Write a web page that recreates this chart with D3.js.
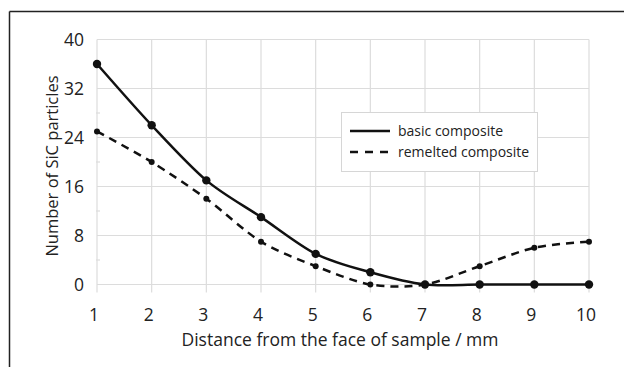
<!doctype html>
<html lang="en">
<head>
<meta charset="utf-8">
<title>SiC particles</title>
<script src="https://cdn.jsdelivr.net/npm/d3@7"></script>
<style>
  body { margin: 0; background: #fff; }
  svg text { font-family: "Open Sans", sans-serif; fill: #222; }
  .grid line { stroke: #dcdcdc; stroke-width: 1.2; }
</style>
</head>
<body>
<svg id="chart" width="624" height="367"></svg>
<script>
  // values
  var distance = [1, 2, 3, 4, 5, 6, 7, 8, 9, 10];
  var basic    = [36, 26, 17, 11, 5, 2, 0, 0, 0, 0];
  var remelted = [25, 20, 14, 7, 3, 0, 0, 3, 6, 7];
  var yTicks   = [0, 8, 16, 24, 32, 40];
  var seriesNames = ["basic composite", "remelted composite"];

  var svg = d3.select("#chart");

  var x = d3.scaleLinear().domain([1, 10]).range([97, 589]);
  var y = d3.scaleLinear().domain([0, 40]).range([284.5, 39.5]);

  // outer frame (only top and left visible)
  svg.append("line").attr("x1", 9.5).attr("y1", 11.5).attr("x2", 624).attr("y2", 11.5)
    .attr("stroke", "#222").attr("stroke-width", 1.5);
  svg.append("line").attr("x1", 9.5).attr("y1", 11.5).attr("x2", 9.5).attr("y2", 367)
    .attr("stroke", "#222").attr("stroke-width", 1.5);

  // grid
  var grid = svg.append("g").attr("class", "grid");
  grid.selectAll(".h").data(yTicks).enter().append("line")
    .attr("x1", x(1)).attr("x2", x(10))
    .attr("y1", function(d) { return y(d); }).attr("y2", function(d) { return y(d); });
  grid.selectAll(".v").data(distance).enter().append("line")
    .attr("x1", function(d) { return x(d); }).attr("x2", function(d) { return x(d); })
    .attr("y1", y(40)).attr("y2", y(0) + 8);
  // minor ticks on y axis
  grid.selectAll(".m").data(d3.range(4, 40, 8)).enter().append("line")
    .attr("x1", x(1) - 1).attr("x2", x(1) + 3)
    .attr("y1", function(d) { return y(d); }).attr("y2", function(d) { return y(d); });

  // y tick labels
  svg.selectAll(".ylab").data(yTicks).enter().append("text")
    .attr("x", 84).attr("y", function(d) { return y(d); })
    .attr("dy", "0.35em").attr("text-anchor", "end")
    .style("font-size", "17.5px")
    .text(function(d) { return d; });

  // x tick labels
  svg.selectAll(".xlab").data(distance).enter().append("text")
    .attr("x", function(d) { return x(d) - 3; }).attr("y", 321)
    .attr("text-anchor", "middle")
    .style("font-size", "17.5px")
    .text(function(d) { return d; });

  // axis titles
  svg.append("text").attr("x", 340).attr("y", 346).attr("text-anchor", "middle")
    .style("font-size", "17.5px").text("Distance from the face of sample / mm");
  svg.append("text").attr("transform", "translate(58,166) rotate(-90)")
    .attr("text-anchor", "middle").style("font-size", "16.5px")
    .text("Number of SiC particles");

  var line = d3.line().curve(d3.curveCardinal.tension(0.1))
    .x(function(d, i) { return x(distance[i]); })
    .y(function(d) { return y(d); });

  svg.append("path").datum(remelted).attr("d", line)
    .attr("fill", "none").attr("stroke", "#111").attr("stroke-width", 2.5)
    .attr("stroke-dasharray", "8,6");
  svg.append("path").datum(basic).attr("d", line)
    .attr("fill", "none").attr("stroke", "#111").attr("stroke-width", 2.5);

  svg.selectAll(".pr").data(remelted).enter().append("circle")
    .attr("cx", function(d, i) { return x(distance[i]); })
    .attr("cy", function(d) { return y(d); })
    .attr("r", 3).attr("fill", "#111");
  svg.selectAll(".pb").data(basic).enter().append("circle")
    .attr("cx", function(d, i) { return x(distance[i]); })
    .attr("cy", function(d) { return y(d); })
    .attr("r", 4.2).attr("fill", "#111");

  // legend
  var lg = svg.append("g");
  lg.append("rect").attr("x", 341.5).attr("y", 112.5).attr("width", 196).attr("height", 59)
    .attr("fill", "#fff").attr("stroke", "#d6d6d6");
  lg.append("line").attr("x1", 350).attr("x2", 390).attr("y1", 131).attr("y2", 131)
    .attr("stroke", "#111").attr("stroke-width", 2.5);
  lg.append("line").attr("x1", 350).attr("x2", 392).attr("y1", 152).attr("y2", 152)
    .attr("stroke", "#111").attr("stroke-width", 2.5).attr("stroke-dasharray", "8,7");
  lg.selectAll(".lt").data(seriesNames).enter().append("text")
    .attr("x", 398).attr("y", function(d, i) { return 131 + i * 21; })
    .attr("dy", "0.35em").style("font-size", "14px")
    .text(function(d) { return d; });
</script>
</body>
</html>
